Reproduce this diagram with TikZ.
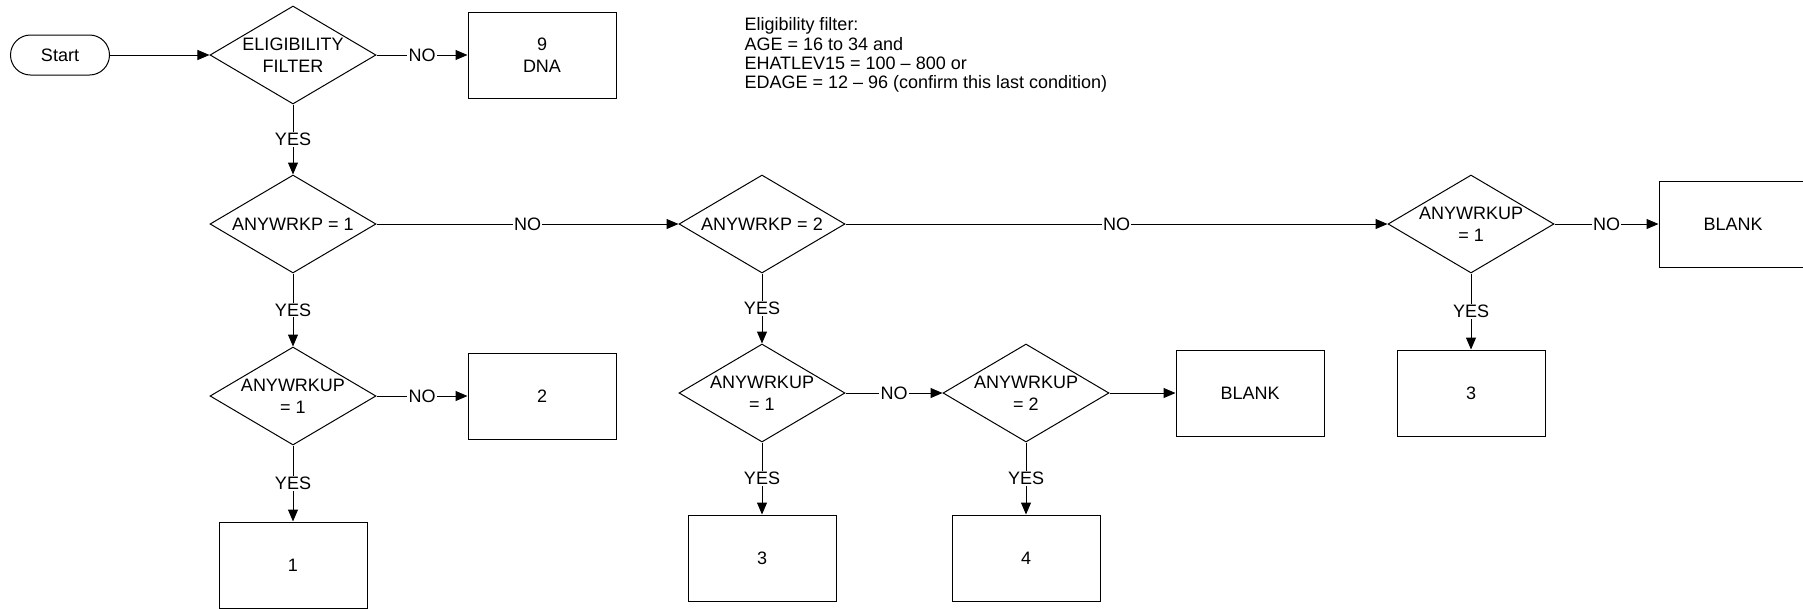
\documentclass[tikz,border=0pt]{standalone}
\usepackage{fontspec}
\setmainfont{Liberation Sans}
\usetikzlibrary{shapes.geometric,arrows.meta}
\begin{document}
\begin{tikzpicture}[x=0.75pt,y=-0.75pt,
  every node/.style={font=\fontsize{13.5pt}{16.2pt}\selectfont},
  every path/.style={line width=0.75pt},
  dia/.style={draw, diamond, inner sep=0pt, minimum width=124.5pt, minimum height=73.5pt},
  box/.style={draw, rectangle, inner sep=0pt, minimum width=111pt, minimum height=64.5pt, align=center},
  term/.style={draw, rectangle, rounded corners=15pt, inner sep=0pt, minimum width=74.25pt, minimum height=30pt},
  arr/.style={-{Triangle[length=9pt,width=7.5pt]}},
  lbl/.style={fill=white, inner sep=0.8pt}]
\useasboundingbox (0,0) rectangle (1803,608);
% nodes
\node[term] (start) at (60,55) {Start};
\node[dia, label={[align=center]center:ELIGIBILITY\\FILTER}] (E) at (293,55) {};
\node[box] (dna) at (542,55) {9\\DNA};
\node[anchor=north west, align=left, inner sep=0pt, font=\fontsize{13.5pt}{14.6pt}\selectfont] (note) at (744,17)
  {Eligibility filter:\\AGE = 16 to 34 and\\EHATLEV15 = 100 – 800 or\\EDAGE = 12 – 96 (confirm this last condition)};
\node[dia, label={center:ANYWRKP = 1}] (p1) at (293,224) {};
\node[dia, label={center:ANYWRKP = 2}] (p2) at (762,224) {};
\node[dia, label={[align=center]center:ANYWRKUP\\= 1}] (u1r) at (1471,224) {};
\node[box] (blankr) at (1733,224) {BLANK};
\node[dia, label={[align=center]center:ANYWRKUP\\= 1}] (u1l) at (293,396) {};
\node[box] (b2) at (542,396) {2};
\node[box] (b1) at (293,565) {1};
\node[dia, label={[align=center]center:ANYWRKUP\\= 1}] (u1m) at (762,393) {};
\node[dia, label={[align=center]center:ANYWRKUP\\= 2}] (u2m) at (1026,393) {};
\node[box] (blankm) at (1250,393) {BLANK};
\node[box] (b3m) at (762,558) {3};
\node[box] (b4m) at (1026,558) {4};
\node[box] (b3r) at (1471,393) {3};
% connectors
\draw[arr] (start) -- (E);
\draw[arr] (E) -- node[lbl]{NO} (dna);
\draw[arr] (E) -- node[lbl]{YES} (p1);
\draw[arr] (p1) -- node[lbl]{NO} (p2);
\draw[arr] (p2) -- node[lbl]{NO} (u1r);
\draw[arr] (u1r) -- node[lbl]{NO} (blankr);
\draw[arr] (u1r) -- node[lbl]{YES} (b3r);
\draw[arr] (p1) -- node[lbl]{YES} (u1l);
\draw[arr] (u1l) -- node[lbl]{NO} (b2);
\draw[arr] (u1l) -- node[lbl]{YES} (b1);
\draw[arr] (p2) -- node[lbl]{YES} (u1m);
\draw[arr] (u1m) -- node[lbl]{NO} (u2m);
\draw[arr] (u1m) -- node[lbl]{YES} (b3m);
\draw[arr] (u2m) -- (blankm);
\draw[arr] (u2m) -- node[lbl]{YES} (b4m);
\end{tikzpicture}
\end{document}
